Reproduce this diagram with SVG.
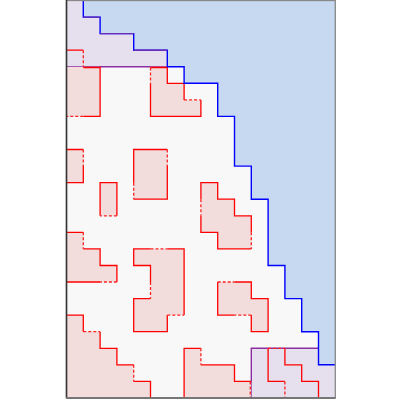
<svg xmlns="http://www.w3.org/2000/svg" width="400" height="400" viewBox="0 0 400 400">
<style>
.bg{fill:#f8f8f8}
.bf{fill:#c6d9f0;stroke:none}
.pf{fill:#e6e0ee;stroke:none}
.rf{fill:#f2dcdc;stroke:none}
.bl{fill:none;stroke:#0000ff;stroke-width:1.4}
.pl{fill:none;stroke:#8b2fa0;stroke-width:1.4}
.ph{fill:none;stroke:#6a30b8;stroke-width:1.4}
.rs{fill:none;stroke:#ff0000;stroke-width:1.3}
.rd{fill:none;stroke:#ff2020;stroke-width:1.3;stroke-dasharray:3 2}
</style>
<rect width="400" height="400" fill="#ffffff"/>
<rect class="bg" x="66.5" y="0.5" width="268.8" height="397.4"/>

<g id="upper-region">
<path class="bf" d="M83.3,0.5 V17.1 H100.1 V33.6 H133.7 V50.2 H167.3 V66.7 H184.1 V83.3 H217.7 V116.4 H234.5 V166.1 H251.3 V199.2 H268.1 V265.5 H284.9 V298.6 H301.7 V331.7 H318.5 V364.8 H335.3 V0.5 Z"/>
</g>
<g id="overlap-top">
<path class="pf" d="M66.5,0.5 H83.3 V17.1 H100.1 V33.6 H133.7 V50.2 H167.3 V66.7 H66.5 Z"/>
<path class="pl" d="M66.5,66.7 H167.3"/>
</g>
<g id="overlap-bottom">
<path class="pf" d="M251.3,348.3 H318.5 V364.8 H335.3 V397.9 H251.3 Z"/>
<path class="pl" d="M251.3,397.9 V348.3 H318.5"/>
</g>

<g id="block-A">
<path class="rf" d="M66.5,66.7 H100.1 V116.4 H66.5 Z"/>
<path class="rs" d="M66.5,50.2 H83.3 M83.3,67.5 H100.1 V116.4 H83.3"/>
<path class="rd" d="M83.3,50.2 V66.7 M83.3,116.4 H66.5"/>
</g>
<g id="block-B">
<path class="rf" d="M150.5,66.7 H167.3 V83.3 H184.1 V99.9 H200.9 V116.4 H150.5 Z"/>
<path class="rs" d="M150.5,83.3 V116.4 H200.9 V99.9 M184.1,99.9 V83.3 H167.3 V67.5 H150.5"/>
<path class="rd" d="M150.5,67.5 V83.3 M184.1,99.9 H200.9"/>
</g>
<g id="block-C">
<path class="rf" d="M66.5,149.5 H83.3 V182.7 H66.5 Z"/>
<path class="rs" d="M66.5,149.5 H83.3 M83.3,166.1 V182.7 H66.5"/>
<path class="rd" d="M83.3,149.5 V166.1"/>
</g>
<g id="block-D">
<path class="rf" d="M100.1,182.7 H116.9 V215.8 H100.1 Z"/>
<path class="rs" d="M100.1,215.8 V182.7 H116.9 V215.8"/>
<path class="rd" d="M116.9,215.8 H100.1"/>
</g>
<g id="block-E">
<path class="rf" d="M133.7,149.5 H167.3 V199.2 H133.7 Z"/>
<path class="rs" d="M133.7,182.7 V149.5 H167.3 M167.3,166.1 V199.2 H133.7"/>
<path class="rd" d="M167.3,149.5 V166.1 M133.7,182.7 V199.2"/>
</g>
<g id="block-F">
<path class="rf" d="M66.5,232.3 H83.3 V248.9 H100.1 V265.5 H116.9 V282 H66.5 Z"/>
<path class="rs" d="M66.5,232.3 H83.3 M83.3,248.9 H100.1 V265.5 H116.9 V282 M100.1,282 H66.5"/>
<path class="rd" d="M83.3,232.3 V248.9 M116.9,282 H100.1"/>
</g>
<g id="block-G">
<path class="rf" d="M133.7,248.9 H184.1 V315.1 H167.3 V331.7 H133.7 V298.6 H150.5 V265.5 H133.7 Z"/>
<path class="rs" d="M150.5,248.9 H133.7 V265.5 H150.5 V282 M150.5,298.6 H133.7 V331.7 H167.3 V315.1 M184.1,315.1 V248.9 H167.3"/>
<path class="rd" d="M150.5,248.9 H167.3 M150.5,282 V298.6 M167.3,315.1 H184.1"/>
</g>
<g id="block-H">
<path class="rf" d="M66.5,315.1 H83.3 V331.7 H100.1 V348.3 H116.9 V364.8 H133.7 V381.4 H150.5 V397.9 H66.5 Z"/>
<path class="rs" d="M66.5,315.1 H83.3 V331.7 M100.1,331.7 V348.3 H116.9 V364.8 H133.7 M133.7,381.4 H150.5 V397.9"/>
<path class="rd" d="M83.3,331.7 H100.1 M133.7,364.8 V381.4"/>
</g>
<g id="block-I">
<path class="rf" d="M184.1,348.3 H200.9 V364.8 H234.5 V381.4 H251.3 V397.9 H184.1 Z"/>
<path class="rs" d="M184.1,397.9 V348.3 H200.9 M200.9,364.8 H234.5 V381.4 H251.3"/>
<path class="rd" d="M200.9,348.3 V364.8 M250.3,381.4 V397.9"/>
</g>
<g id="block-J">
<path class="rf" d="M200.9,182.7 H217.7 V199.2 H234.5 V215.8 H251.3 V248.9 H217.7 V232.3 H200.9 Z"/>
<path class="rs" d="M200.9,199.2 V182.7 H217.7 V199.2 H234.5 V215.8 H251.3 V232.3 M251.3,248.9 H217.7 V232.3 H200.9 V215.8"/>
<path class="rd" d="M200.9,199.2 V215.8 M251.3,232.3 V248.9"/>
</g>
<g id="block-K">
<path class="rf" d="M217.7,282 H251.3 V298.6 H268.1 V331.7 H251.3 V315.1 H217.7 Z"/>
<path class="rs" d="M234.5,282 H251.3 V298.6 H268.1 V331.7 H251.3 V315.1 M234.5,315.1 H217.7 V282"/>
<path class="rd" d="M217.7,282 H234.5 M251.3,315.1 H234.5"/>
</g>
<g id="block-L">
<path class="rs" d="M268.1,348.3 V381.4 H284.9"/>
<path class="rd" d="M284.9,381.4 V397.9"/>
</g>
<g id="block-M">
<path class="rs" d="M284.9,348.3 V364.8 H301.7 V381.4 H318.5 V397.9"/>
<path class="rd" d="M268.1,348.3 H284.9"/>
</g>

<g id="boundary">
<path class="bl" d="M83.3,0.5 V17.1 H100.1 V33.6 H133.7 V50.2 H167.3 V66.7 H184.1 V83.3 H217.7 V116.4 H234.5 V166.1 H251.3 V199.2 H268.1 V265.5 H284.9 V298.6 H301.7 V331.7 H318.5 V364.8 H335.3"/>
<path class="ph" d="M83.3,17.1 H100.1 M100.1,33.6 H133.7 M133.7,50.2 H167.3"/>
</g>

<g id="frame">
<rect x="66.5" y="0.5" width="268.8" height="397.4" fill="none" stroke="#888888" stroke-width="1.3"/>
<path d="M66.5,0 V398" stroke="#333333" stroke-width="1.5" fill="none"/>
<path d="M66,398 H335.5" stroke="#777777" stroke-width="2" fill="none"/>
</g>
</svg>
